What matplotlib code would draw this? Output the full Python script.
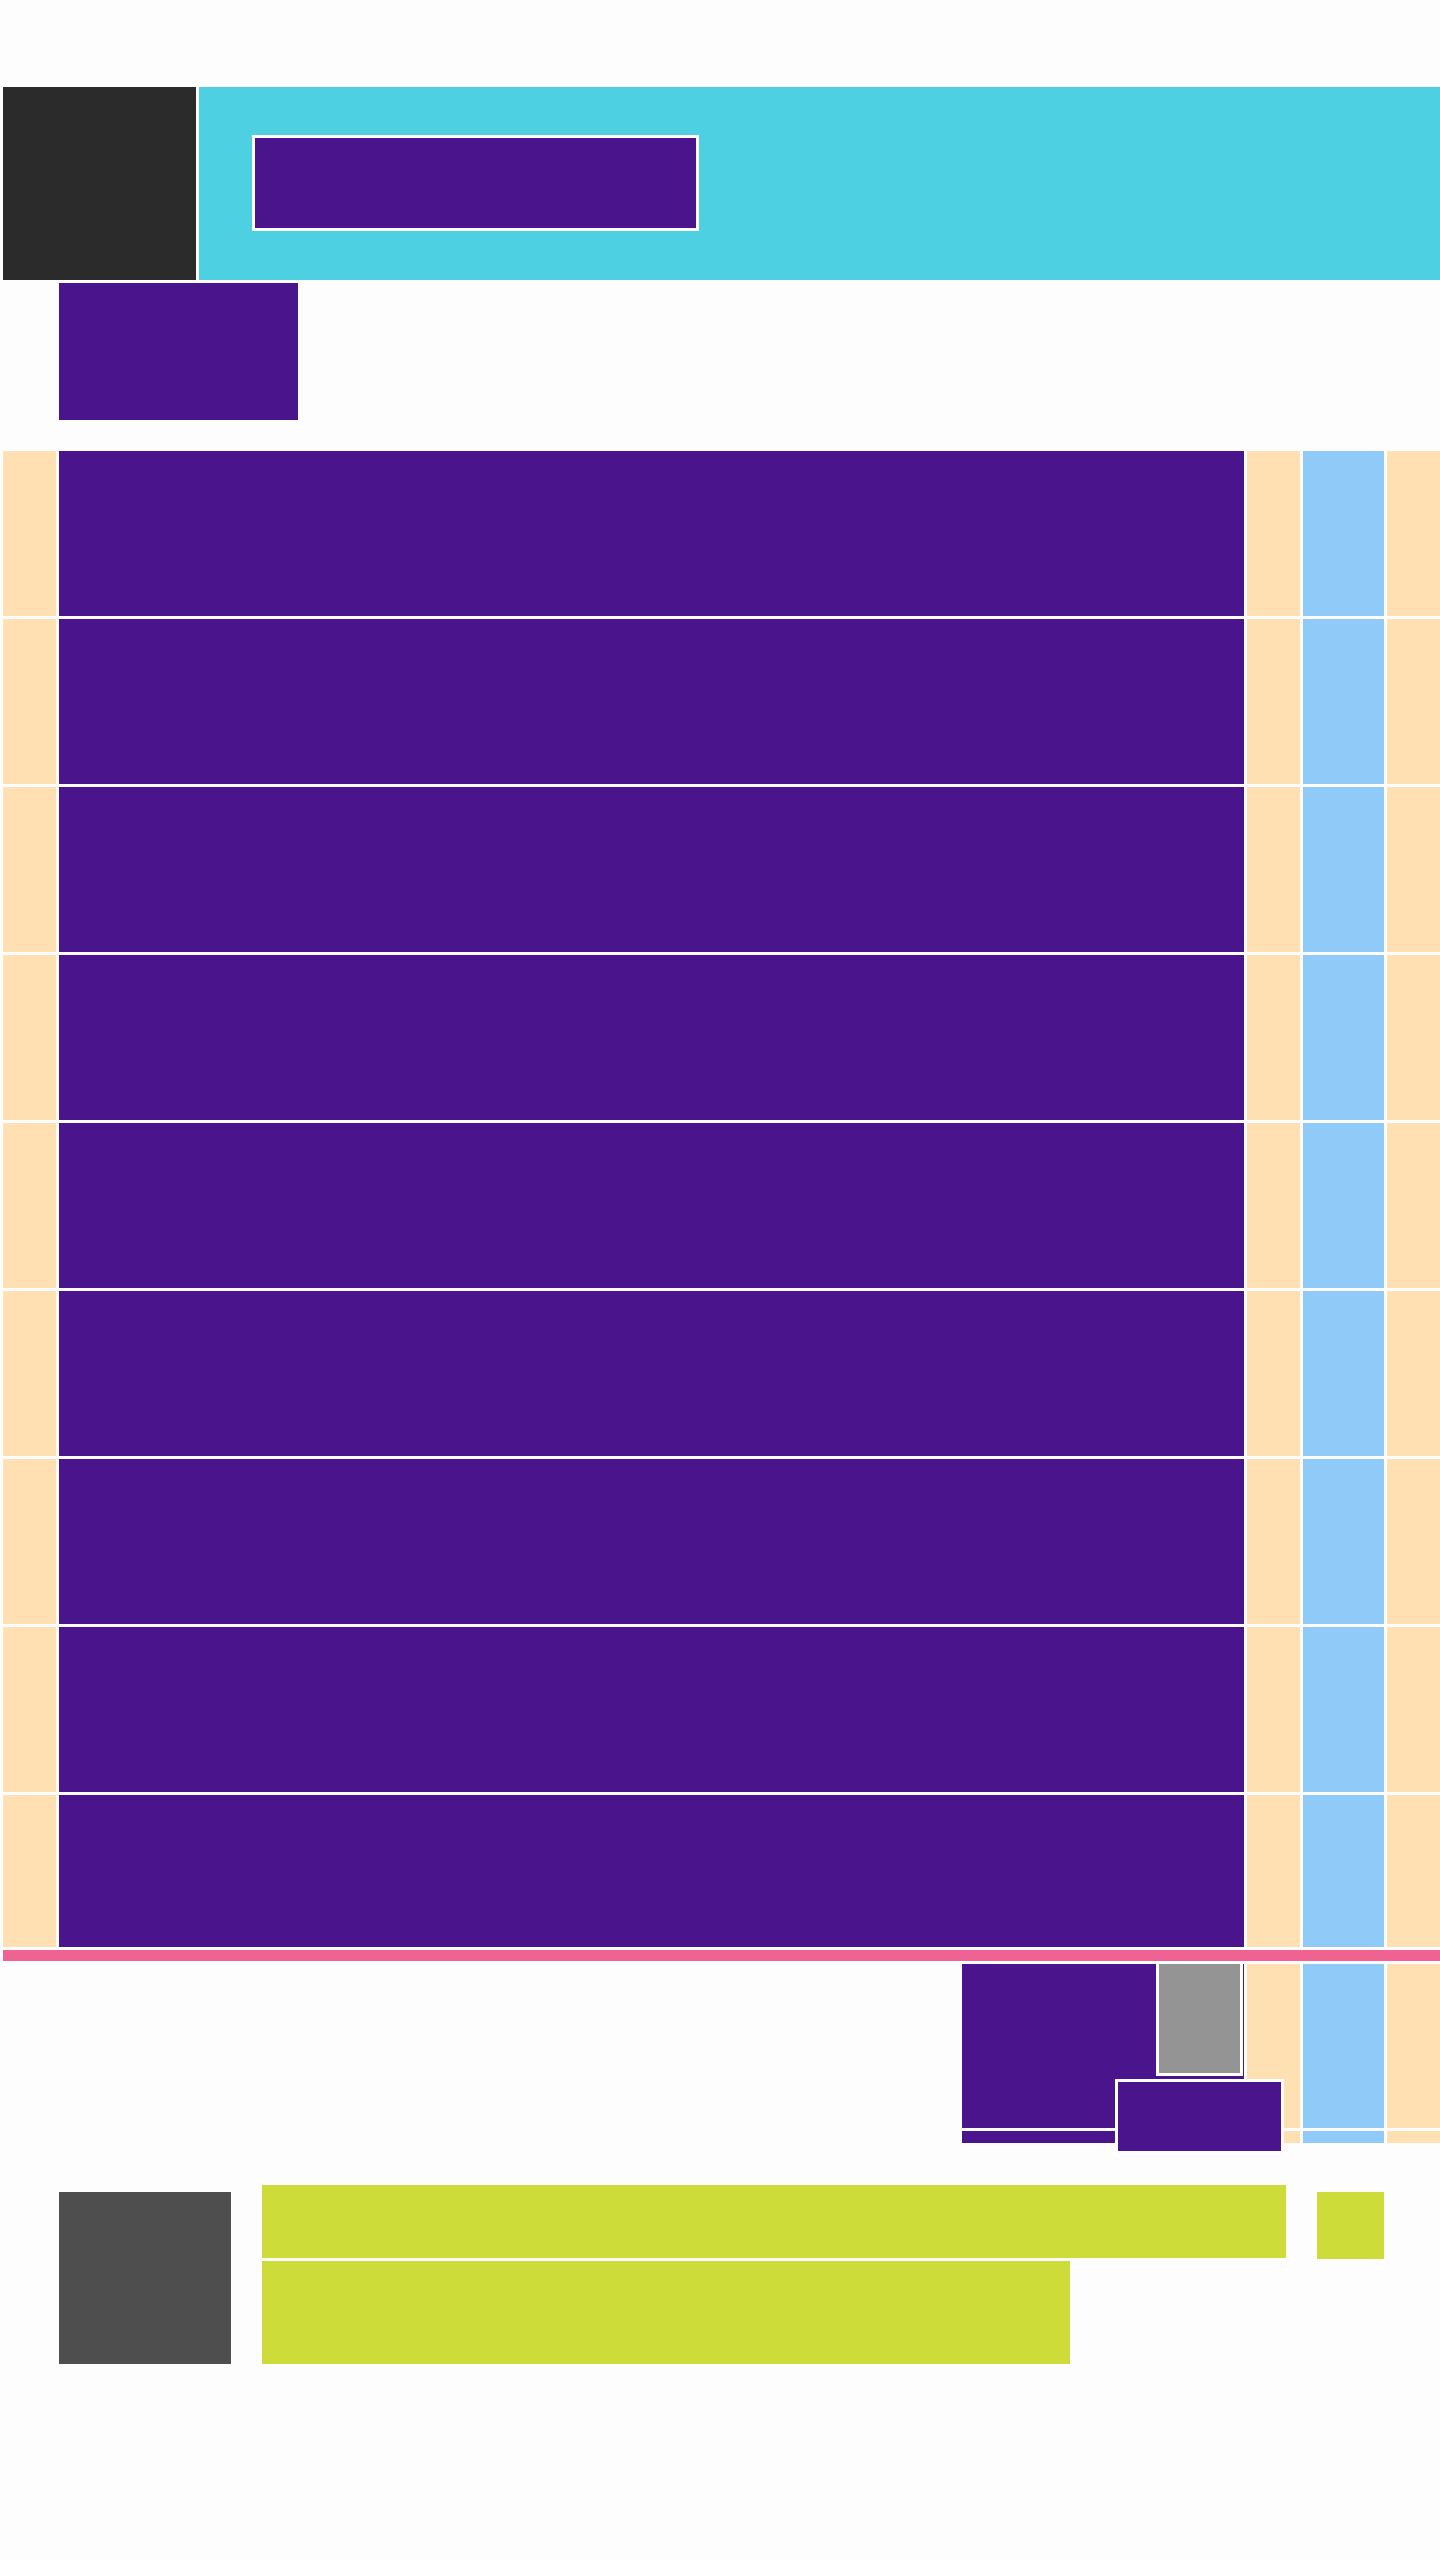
import matplotlib
matplotlib.use("Agg")
import matplotlib.pyplot as plt

# ---- data ----
# main grid rows (top, height) in pixel units
row_tops = [451, 619, 787, 955, 1123, 1291, 1459, 1627, 1795]
row_heights = [165, 165, 165, 165, 165, 165, 165, 165, 152]
# main grid columns
col_starts = [3, 59, 1247, 1303, 1387]
col_widths = [53, 1185, 53, 81, 53]

# lower grid (below the pink rule)
low_row_tops = [1964, 2131]
low_row_heights = [164, 12]
low_col_starts = [962, 1247, 1303, 1387]
low_col_widths = [282, 53, 81, 53]

# header blocks: (left, top, width, height)
header_lefts = [3, 199, 59]
header_tops = [87, 87, 283]
header_widths = [193, 1241, 239]
header_heights = [193, 193, 137]

# inset boxes (white framed): left, top, width, height
inset_lefts = [255, 1159, 1118]
inset_tops = [138, 1964, 2082]
inset_widths = [441, 81, 163]
inset_heights = [90, 109, 69]

# pink rule
rule_left, rule_top, rule_width, rule_height = 3, 1950, 1437, 11

# footer blocks
foot_lefts = [59, 262, 262, 1317]
foot_tops = [2192, 2185, 2261, 2192]
foot_widths = [172, 1024, 808, 67]
foot_heights = [172, 73, 103, 67]

# ---- styles ----
BG = "#FDFDFD"
PURPLE = "#4A148C"
BEIGE = "#FFE0B2"
BLUE = "#90CAF9"
CYAN = "#4DD0E1"
DARK = "#2B2B2B"
PINK = "#F06292"
GRAY = "#949494"
DGRAY = "#4E4E4E"
LIME = "#CDDC39"

col_colors = [BEIGE, PURPLE, BEIGE, BLUE, BEIGE]
low_col_colors = [PURPLE, BEIGE, BLUE, BEIGE]
header_colors = [DARK, CYAN, PURPLE]
inset_colors = [PURPLE, GRAY, PURPLE]
foot_colors = [DGRAY, LIME, LIME, LIME]

fig = plt.figure(figsize=(14.4, 25.6), dpi=100, facecolor=BG)
ax = fig.add_axes([0, 0, 1, 1])
ax.set_facecolor(BG)
ax.set_xlim(0, 1440)
ax.set_ylim(2560, 0)
ax.axis("off")


def blocks(lefts, tops, widths, heights, colors, z=1, **kw):
    ax.barh(tops, widths, height=heights, left=lefts, align="edge",
            color=colors, linewidth=0, zorder=z, **kw)


# header
blocks(header_lefts, header_tops, header_widths, header_heights, header_colors)

# main grid
for t, h in zip(row_tops, row_heights):
    blocks(col_starts, [t] * len(col_starts), col_widths, [h] * len(col_starts), col_colors)

# pink rule
blocks([rule_left], [rule_top], [rule_width], [rule_height], [PINK])

# lower grid
for t, h in zip(low_row_tops, low_row_heights):
    blocks(low_col_starts, [t] * len(low_col_starts), low_col_widths,
           [h] * len(low_col_starts), low_col_colors)

# inset boxes with white frames
for i, (l, t, w, h, c) in enumerate(zip(inset_lefts, inset_tops, inset_widths,
                                        inset_heights, inset_colors)):
    z = 3 + 2 * i
    blocks([l - 3], [t - 3], [w + 6], [h + 6], ["white"], z=z)
    blocks([l], [t], [w], [h], [c], z=z + 1)

# footer
blocks(foot_lefts, foot_tops, foot_widths, foot_heights, foot_colors)

fig.savefig("out.png", dpi=100, facecolor=BG)
